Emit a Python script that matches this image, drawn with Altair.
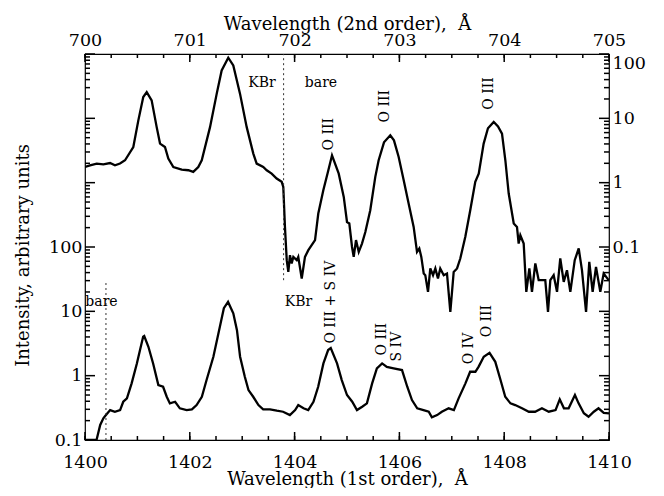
import altair as alt
import pandas as pd

# ---------------- data ----------------
# lower spectrum: 1st-order wavelength (A), intensity (left axis units)
lower_wl = [1400.00, 1400.22, 1400.29, 1400.35, 1400.40, 1400.48, 1400.57, 1400.67, 1400.73, 1400.80,
            1400.89, 1400.99, 1401.05, 1401.11, 1401.13, 1401.21, 1401.30, 1401.40, 1401.49, 1401.56,
            1401.62, 1401.72, 1401.81, 1401.94, 1402.04, 1402.13, 1402.23, 1402.32, 1402.45, 1402.58,
            1402.65, 1402.73, 1402.83, 1402.90, 1402.96, 1403.05, 1403.12, 1403.21, 1403.31, 1403.40,
            1403.53, 1403.66, 1403.78, 1403.91, 1404.01, 1404.07, 1404.17, 1404.26, 1404.36, 1404.45,
            1404.55, 1404.64, 1404.69, 1404.81, 1404.90, 1405.00, 1405.10, 1405.19, 1405.29, 1405.38,
            1405.48, 1405.57, 1405.67, 1405.76, 1405.89, 1406.05, 1406.15, 1406.24, 1406.34, 1406.46,
            1406.56, 1406.62, 1406.72, 1406.81, 1406.94, 1407.04, 1407.13, 1407.26, 1407.35, 1407.45,
            1407.51, 1407.61, 1407.72, 1407.83, 1407.93, 1408.02, 1408.12, 1408.21, 1408.34, 1408.47,
            1408.59, 1408.72, 1408.85, 1408.98, 1409.06, 1409.14, 1409.23, 1409.35, 1409.42, 1409.52,
            1409.61, 1409.71, 1409.80, 1409.90, 1410.00]
lower_int = [0.1, 0.1, 0.171, 0.217, 0.244, 0.292, 0.275, 0.292, 0.393, 0.444,
             0.759, 1.55, 2.50, 4.02, 4.12, 2.81, 1.55, 0.714, 0.673, 0.470,
             0.371, 0.393, 0.311, 0.292, 0.300, 0.349, 0.470, 0.855, 1.97, 6.1,
             11.2, 14.0, 9.3, 5.1, 1.97, 0.96, 0.597, 0.470, 0.349, 0.300,
             0.300, 0.285, 0.275, 0.244, 0.292, 0.349, 0.311, 0.292, 0.393, 0.673,
             1.55, 2.50, 2.68, 1.55, 0.855, 0.500, 0.393, 0.292, 0.329, 0.371,
             0.759, 1.30, 1.55, 1.37, 1.30, 1.22, 0.673, 0.418, 0.311, 0.292,
             0.275, 0.225, 0.244, 0.275, 0.311, 0.292, 0.444, 0.759, 1.15, 1.15,
             1.37, 1.97, 2.27, 1.64, 0.855, 0.470, 0.371, 0.349, 0.311, 0.275,
             0.275, 0.311, 0.275, 0.292, 0.429, 0.311, 0.311, 0.500, 0.371, 0.260,
             0.230, 0.275, 0.311, 0.265, 0.260]

# upper spectrum: 2nd-order wavelength (A), intensity (right axis units)
upper_wl = [700.000, 700.048, 700.112, 700.175, 700.239, 700.286, 700.334, 700.382, 700.461, 700.509,
            700.556, 700.589, 700.636, 700.684, 700.716, 700.763, 700.795, 700.843, 700.923, 700.986,
            701.033, 701.081, 701.114, 701.193, 701.257, 701.304, 701.367, 701.415, 701.479, 701.543,
            701.606, 701.638, 701.701, 701.734, 701.781, 701.829, 701.877, 701.892, 701.908, 701.925,
            701.940, 701.956, 701.972, 701.988, 702.020, 702.035, 702.068, 702.099, 702.131, 702.195,
            702.226, 702.274, 702.322, 702.357, 702.421, 702.469, 702.500, 702.522, 702.548, 702.564,
            702.586, 702.612, 702.643, 702.675, 702.722, 702.770, 702.802, 702.853, 702.913, 702.948,
            702.993, 703.041, 703.088, 703.136, 703.168, 703.190, 703.209, 703.232, 703.247, 703.273,
            703.295, 703.321, 703.343, 703.368, 703.390, 703.423, 703.454, 703.486, 703.518, 703.550,
            703.581, 703.629, 703.676, 703.724, 703.757, 703.804, 703.845, 703.900, 703.941, 703.979,
            704.011, 704.043, 704.091, 704.122, 704.138, 704.154, 704.186, 704.211, 704.240, 704.265,
            704.297, 704.329, 704.392, 704.418, 704.440, 704.472, 704.504, 704.535, 704.568, 704.599,
            704.631, 704.673, 704.711, 704.742, 704.781, 704.812, 704.844, 704.876, 704.917, 704.949,
            704.997]
upper_int = [1.75, 1.86, 1.98, 1.93, 2.02, 1.86, 1.98, 2.23, 3.58, 9.3,
             21.4, 25.6, 19.0, 7.3, 4.05, 3.58, 2.37, 1.75, 1.60, 1.56,
             1.47, 1.75, 2.23, 7.3, 24.2, 55.6, 87.7, 66.5, 24.2, 7.3,
             2.83, 1.98, 1.75, 1.56, 1.38, 1.16, 1.03, 0.858, 0.205, 0.0624,
             0.0410, 0.0746, 0.0555, 0.0702, 0.0624, 0.0702, 0.0324, 0.0702, 0.0892, 0.128,
             0.331, 0.762, 1.56, 2.66, 1.38, 0.600, 0.245, 0.232, 0.100, 0.0702,
             0.128, 0.0839, 0.113, 0.171, 0.372, 1.23, 2.23, 4.24, 5.45, 4.55,
             2.51, 1.09, 0.474, 0.205, 0.0839, 0.0948, 0.0702, 0.0388, 0.0365, 0.0201,
             0.0464, 0.0365, 0.0464, 0.0324, 0.0464, 0.0365, 0.0388, 0.00983, 0.0410, 0.0464,
             0.0663, 0.144, 0.372, 1.03, 1.38, 4.05, 7.0, 8.76, 7.5, 5.78,
             2.23, 0.677, 0.232, 0.205, 0.113, 0.152, 0.113, 0.0201, 0.0464, 0.0201,
             0.0555, 0.0305, 0.0305, 0.00983, 0.0305, 0.0365, 0.0201, 0.0663, 0.0287, 0.0436,
             0.0201, 0.0624, 0.0948, 0.0436, 0.00983, 0.0586, 0.0201, 0.0491, 0.0201, 0.0388,
             0.0305]

# annotations for the lower spectrum (1st order, left units)
low_ann_text = ["bare", "KBr", "O III + S IV", "O III", "S IV", "O IV", "O III"]
low_ann_wl = [1400.315, 1404.074, 1404.695, 1405.668, 1405.954, 1407.328, 1407.672]
low_ann_y = [13.9, 13.9, 13.9, 3.70, 2.83, 2.64, 7.05]
low_ann_ang = [0, 0, 270, 270, 270, 270, 270]

# annotations for the upper spectrum (2nd order, right units)
up_ann_text = ["KBr", "bare", "O III", "O III", "O III"]
up_ann_wl = [701.689, 702.252, 702.328, 702.863, 703.855]
up_ann_y = [35.0, 35.0, 5.65, 15.4, 24.4]
up_ann_ang = [0, 0, 270, 270, 270]

# dashed filter-boundary lines (1st order, left units)
rule_wl = [1403.79, 1400.40]
rule_y1 = [30.5, 0.1]
rule_y2 = [100000, 28.4]

# axis values
x1_major = [1400, 1402, 1404, 1406, 1408, 1410]
x1_minor = [1400 + 0.5 * i for i in range(21)]
x2_major = [700, 701, 702, 703, 704, 705]
x2_minor = [700 + 0.25 * i for i in range(21)]
yl_major = [0.1, 1, 10, 100, 1000, 10000, 100000]
yl_minor = [k * 10.0 ** e for e in range(-1, 5) for k in range(2, 10)]
yr_major = [0.0001, 0.001, 0.01, 0.1, 1, 10, 100]
yr_minor = [k * 10.0 ** e for e in range(-4, 2) for k in range(2, 10)]

FONT = "DejaVu Serif"
LBL = 17.5
W, H = 524, 386
XMAJ, XMIN = 8, 4     # tick lengths on the wavelength axes
YMAJ, YMIN = 10, 5    # tick lengths on the intensity axes
TICKW = 1.5

X1 = [1400, 1410]
X2 = [700, 705]
YL = [0.1, 100000]
YR = [0.0001, 100]


def sx(dom):
    return alt.Scale(domain=dom, nice=False, zero=False)


def sy(dom):
    return alt.Scale(type="log", domain=dom, nice=False)


lower = pd.DataFrame({"wl": lower_wl, "inten": lower_int})
upper = pd.DataFrame({"wl2": upper_wl, "inten": upper_int})
low_ann = pd.DataFrame({"wl": low_ann_wl, "inten": low_ann_y, "label": low_ann_text, "ang": low_ann_ang})
up_ann = pd.DataFrame({"wl2": up_ann_wl, "inten": up_ann_y, "label": up_ann_text, "ang": up_ann_ang})
rules = pd.DataFrame({"wl": rule_wl, "y1": rule_y1, "y2": rule_y2})

axis_bottom = alt.Axis(orient="bottom", values=x1_major, tickSize={"expr": "-8"}, domain=False,
                       grid=False, format="d", labelFlush=False, labelPadding=21,
                       labelFont=FONT, labelFontSize=LBL, labelColor="black",
                       tickOpacity=0,
                       title="Wavelength (1st order),\u00a0\u00a0Å", titleFont=FONT,
                       titleFontSize=18, titleFontWeight="normal", titleColor="black",
                       titleBaseline="alphabetic", titleY=44)
axis_left = alt.Axis(orient="left", values=yl_major, tickSize={"expr": "-10"}, domain=False,
                     grid=False, format="~g", labelExpr="datum.value <= 100 ? datum.label : ''",
                     labelOverlap=False, labelFlush=False, labelPadding=13,
                     labelFont=FONT, labelFontSize=LBL, labelColor="black",
                     tickOpacity=0,
                     title="Intensity, arbitrary units", titleFont=FONT, titleFontSize=18,
                     titleFontWeight="normal", titleColor="black", titleAngle=270,
                     titleBaseline="alphabetic", titleAlign="center", titleX=-57, titleY=201)
axis_top = alt.Axis(orient="top", values=x2_major, tickSize=8, offset=-8, domain=False,
                    grid=False, format="d", labelFlush=False, labelPadding=5,
                    labelFont=FONT, labelFontSize=LBL, labelColor="black",
                    tickOpacity=0,
                    title="Wavelength (2nd order),\u00a0\u00a0Å", titleFont=FONT,
                    titleFontSize=18, titleFontWeight="normal", titleColor="black",
                    titleBaseline="alphabetic", titleY=-33)
axis_right = alt.Axis(orient="right", values=yr_major, tickSize=10, offset=-10, domain=False,
                      grid=False, format="~g", labelExpr="datum.value >= 0.09 ? datum.label : ''",
                      labelOverlap=False, labelFlush=True, labelPadding=3,
                      labelFont=FONT, labelFontSize=LBL, labelColor="black",
                      tickOpacity=0, title=None)

lower_line = alt.Chart(lower).mark_line(color="black", strokeWidth=2.3, clip=True).encode(
    x=alt.X("wl:Q", scale=sx(X1), axis=axis_bottom),
    y=alt.Y("inten:Q", scale=sy(YL), axis=axis_left),
)

upper_line = alt.Chart(upper).mark_line(color="black", strokeWidth=2.3, clip=True).encode(
    x=alt.X("wl2:Q", scale=sx(X2), axis=axis_top),
    y=alt.Y("inten:Q", scale=sy(YR), axis=axis_right),
)

rule_layer = alt.Chart(rules).mark_rule(color="#333333", strokeWidth=1, strokeDash=[2, 3]).encode(
    x=alt.X("wl:Q", scale=sx(X1), axis=None),
    y=alt.Y("y1:Q", scale=sy(YL), axis=None),
    y2="y2:Q",
)

low_text = alt.Chart(low_ann).mark_text(font=FONT, fontSize=14, color="black",
                                        align="center", baseline="middle").encode(
    x=alt.X("wl:Q", scale=sx(X1), axis=None),
    y=alt.Y("inten:Q", scale=sy(YL), axis=None),
    text="label:N",
    angle=alt.Angle("ang:Q", scale=None),
)

up_text = alt.Chart(up_ann).mark_text(font=FONT, fontSize=14, color="black",
                                      align="center", baseline="middle").encode(
    x=alt.X("wl2:Q", scale=sx(X2), axis=None),
    y=alt.Y("inten:Q", scale=sy(YR), axis=None),
    text="label:N",
    angle=alt.Angle("ang:Q", scale=None),
)


def vticks(values, dom, y_from, y_to):
    df = pd.DataFrame({"v": values})
    return alt.Chart(df).mark_rule(color="black", strokeWidth=TICKW, opacity=1).encode(
        x=alt.X("v:Q", scale=sx(dom), axis=None),
        y=alt.value(y_from), y2=alt.value(y_to),
    )


def hticks(values, dom, x_from, x_to):
    df = pd.DataFrame({"v": values})
    return alt.Chart(df).mark_rule(color="black", strokeWidth=TICKW, opacity=1).encode(
        y=alt.Y("v:Q", scale=sy(dom), axis=None),
        x=alt.value(x_from), x2=alt.value(x_to),
    )


tick_layers = [
    vticks(x1_major, X1, H - XMAJ, H),
    vticks(x1_minor, X1, H - XMIN, H),
    vticks(x2_major, X2, 0, XMAJ),
    vticks(x2_minor, X2, 0, XMIN),
    hticks(yl_major, YL, 0, YMAJ),
    hticks(yl_minor, YL, 0, YMIN),
    hticks(yr_major, YR, W - YMAJ, W),
    hticks(yr_minor, YR, W - YMIN, W),
]

chart = alt.layer(
    lower_line, upper_line, rule_layer, low_text, up_text, *tick_layers
).resolve_scale(
    x="independent", y="independent"
).properties(
    width=W, height=H,
    autosize=alt.AutoSizeParams(type="none"),
    padding={"left": 77, "top": 46, "right": 40, "bottom": 48},
    background="white",
).configure_view(stroke="black", strokeWidth=1.2)

chart.save("out.html", embed_options={"renderer": "svg", "actions": False})
